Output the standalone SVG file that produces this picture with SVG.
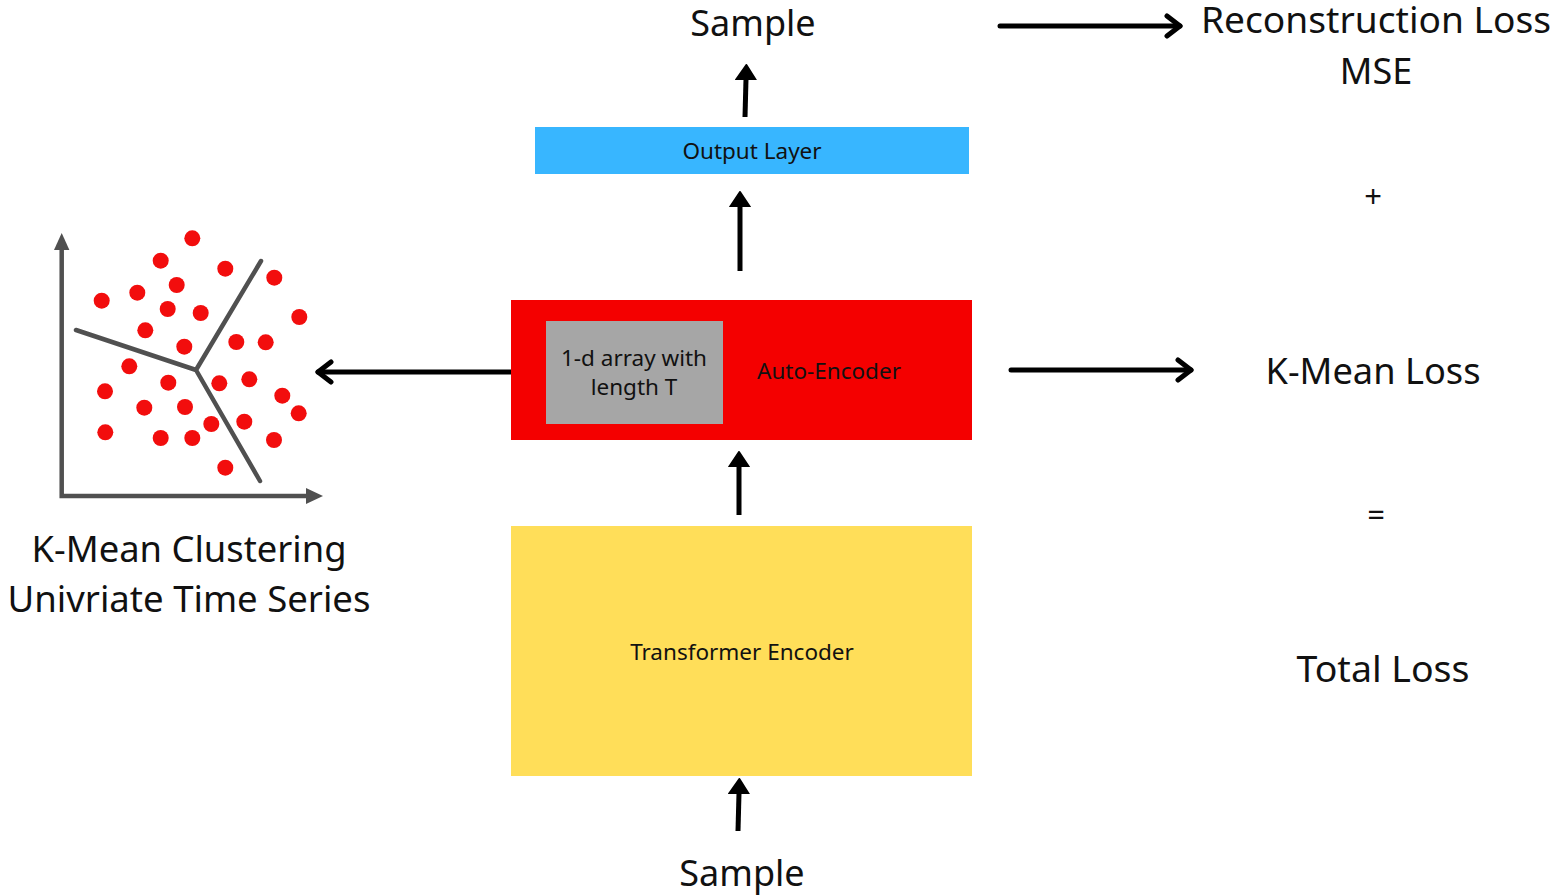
<svg xmlns="http://www.w3.org/2000/svg" width="1563" height="895" viewBox="0 0 1563 895">
  <defs>
    <style>
      text { font-family: "Noto Sans", "Open Sans", "Liberation Sans", sans-serif; fill: #111; }
      .big { font-size: 36px; text-anchor: middle; }
      .small { font-size: 22.5px; text-anchor: middle; }
      .sign { font-size: 31px; text-anchor: middle; }
      .conn { stroke: #000; stroke-width: 5; fill: none; stroke-linecap: round; }
      .solid { marker-end: url(#tri); stroke-linecap: butt; }
      .open { marker-end: url(#chev); }
      .dot { fill: #f20d0d; }
      .axis { stroke: #505050; stroke-width: 4.5; fill: none; }
      .split { stroke: #505050; stroke-width: 4.5; fill: none; stroke-linecap: round; stroke-linejoin: round; }
    </style>
    <!-- filled head for the vertical flow arrows -->
    <marker id="tri" viewBox="0 0 16 22" refX="1" refY="11" markerWidth="16" markerHeight="22" markerUnits="userSpaceOnUse" orient="auto">
      <path d="M0,1 L15,11 L0,21 Z" fill="#000" stroke="#000" stroke-width="2" stroke-linejoin="round"/>
    </marker>
    <!-- open chevron head for the horizontal arrows -->
    <marker id="chev" viewBox="-2 -2 20 26" refX="14" refY="11" markerWidth="20" markerHeight="26" markerUnits="userSpaceOnUse" orient="auto">
      <path d="M1,1 L14,11 L1,21" fill="none" stroke="#000" stroke-width="5" stroke-linecap="round" stroke-linejoin="round"/>
    </marker>
  </defs>

  <rect width="1563" height="895" fill="#fff"/>

  <!-- connectors -->
  <g id="connectors">
    <line class="conn solid" x1="738" y1="831" x2="739" y2="793"/>
    <line class="conn solid" x1="739" y1="515" x2="739" y2="466"/>
    <line class="conn solid" x1="740" y1="271" x2="740" y2="206"/>
    <line class="conn solid" x1="745" y1="117" x2="746" y2="79"/>
    <line class="conn open" x1="511" y1="372" x2="318" y2="372"/>
    <line class="conn open" x1="1000" y1="26" x2="1180" y2="26"/>
    <line class="conn open" x1="1011" y1="370" x2="1191" y2="370"/>
  </g>

  <!-- encoder stack -->
  <g id="transformer-encoder">
    <rect x="511" y="526" width="461" height="250" fill="#ffde59"/>
    <text class="small" x="742" y="660">Transformer Encoder</text>
  </g>

  <g id="auto-encoder">
    <rect x="511" y="300" width="461" height="140" fill="#f40000"/>
    <text class="small" x="829" y="379">Auto-Encoder</text>
  </g>

  <g id="latent-array">
    <rect x="546" y="321" width="177" height="103" fill="#a6a6a6"/>
    <text class="small" x="634" y="366">1-d array with</text>
    <text class="small" x="634" y="395">length T</text>
  </g>

  <g id="output-layer">
    <rect x="535" y="127" width="434" height="47" fill="#38b6ff"/>
    <text class="small" x="752" y="159">Output Layer</text>
  </g>

  <g id="sample-in">
    <text class="big" x="742" y="886">Sample</text>
  </g>

  <g id="sample-out">
    <text class="big" x="753" y="36">Sample</text>
  </g>

  <!-- loss terms -->
  <g id="reconstruction-loss">
    <text class="big" x="1376" y="33" textLength="350" lengthAdjust="spacingAndGlyphs">Reconstruction Loss</text>
    <text class="big" x="1376" y="84">MSE</text>
  </g>
  <g id="plus">
    <text class="sign" x="1373" y="207">+</text>
  </g>
  <g id="kmean-loss">
    <text class="big" x="1373" y="384" textLength="215" lengthAdjust="spacingAndGlyphs">K-Mean Loss</text>
  </g>
  <g id="equals">
    <text class="sign" x="1376" y="526">=</text>
  </g>
  <g id="total-loss">
    <text class="big" x="1383" y="682" textLength="173" lengthAdjust="spacingAndGlyphs">Total Loss</text>
  </g>

  <!-- clustering plot -->
  <g id="kmean-clustering">
    <path class="axis" d="M61.7,248 V496 H308"/>
    <path d="M54,250 L61.7,233 L69.4,250 Z" fill="#505050"/>
    <path d="M306,488 L323,496 L306,504 Z" fill="#505050"/>
    <path class="split" d="M76,330 L196,370 L261,261 M196,370 L260,481"/>
    <g>
      <circle class="dot" cx="192.3" cy="238.3" r="8"/>
      <circle class="dot" cx="160.7" cy="260.7" r="8"/>
      <circle class="dot" cx="225.3" cy="268.7" r="8"/>
      <circle class="dot" cx="274.3" cy="277.7" r="8"/>
      <circle class="dot" cx="176.7" cy="285" r="8"/>
      <circle class="dot" cx="137.3" cy="292.7" r="8"/>
      <circle class="dot" cx="101.7" cy="300.7" r="8"/>
      <circle class="dot" cx="167.7" cy="309" r="8"/>
      <circle class="dot" cx="200.7" cy="313" r="8"/>
      <circle class="dot" cx="299.3" cy="317" r="8"/>
      <circle class="dot" cx="145.3" cy="330.3" r="8"/>
      <circle class="dot" cx="236.3" cy="342" r="8"/>
      <circle class="dot" cx="265.7" cy="342.3" r="8"/>
      <circle class="dot" cx="184.3" cy="346.7" r="8"/>
      <circle class="dot" cx="129.3" cy="366.3" r="8"/>
      <circle class="dot" cx="168.3" cy="382.7" r="8"/>
      <circle class="dot" cx="219.3" cy="383.3" r="8"/>
      <circle class="dot" cx="249.3" cy="379.3" r="8"/>
      <circle class="dot" cx="105" cy="391.3" r="8"/>
      <circle class="dot" cx="282.3" cy="395.7" r="8"/>
      <circle class="dot" cx="144.3" cy="407.7" r="8"/>
      <circle class="dot" cx="185" cy="407" r="8"/>
      <circle class="dot" cx="298.7" cy="413.3" r="8"/>
      <circle class="dot" cx="211.3" cy="424" r="8"/>
      <circle class="dot" cx="244.3" cy="421.7" r="8"/>
      <circle class="dot" cx="105.3" cy="432.3" r="8"/>
      <circle class="dot" cx="160.7" cy="438" r="8"/>
      <circle class="dot" cx="192.3" cy="438" r="8"/>
      <circle class="dot" cx="274" cy="440" r="8"/>
      <circle class="dot" cx="225.3" cy="467.7" r="8"/>
    </g>
    <text class="big" x="189" y="562" textLength="315" lengthAdjust="spacingAndGlyphs">K-Mean Clustering</text>
    <text class="big" x="189" y="612" textLength="363" lengthAdjust="spacingAndGlyphs">Univriate Time Series</text>
  </g>
</svg>
